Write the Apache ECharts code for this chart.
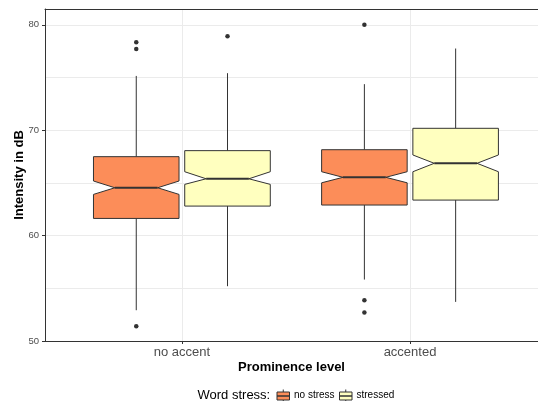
<!DOCTYPE html>
<html>
<head>
<meta charset="utf-8">
<script src="https://cdn.jsdelivr.net/npm/echarts@6/dist/echarts.min.js"></script>
<style>
html,body{margin:0;padding:0;background:#fff;}
#chart{width:538px;height:401px;}
</style>
</head>
<body>
<div id="chart"></div>
<script>
// ---- data ----
const categories = ['no accent', 'accented'];
const stressLevels = ['no stress', 'stressed'];
const legendTitle = 'Word stress:';
const xTitle = 'Prominence level';
const yTitle = 'Intensity in dB';
const yTicks = [50, 60, 70, 80];

const noStressLow = [52.92, 55.83];
const noStressQ1 = [61.63, 62.90];
const noStressNotchLow = [63.91, 65.01];
const noStressMedian = [64.54, 65.53];
const noStressNotchHigh = [65.18, 66.06];
const noStressQ3 = [67.49, 68.15];
const noStressHigh = [75.15, 74.37];
const noStressOutliers = [[0, 78.34], [0, 77.70], [0, 51.40], [1, 80.01], [1, 53.87], [1, 52.70]];

const stressedLow = [55.20, 53.71];
const stressedQ1 = [62.80, 63.37];
const stressedNotchLow = [64.86, 66.06];
const stressedMedian = [65.39, 66.86];
const stressedNotchHigh = [66.06, 67.65];
const stressedQ3 = [68.06, 70.18];
const stressedHigh = [75.41, 77.75];
const stressedOutliers = [[0, 78.91]];

// ---- styling / layout ----
const fills = ['#FC8D59', '#FFFFBF'];
const dodge = [-0.2, 0.2];
const halfWidth = 0.1875;
const FONT = "'Liberation Sans', Arial, Helvetica, sans-serif";

function boxData(low, q1, nlo, med, nhi, q3, high) {
  return categories.map((c, i) => [i, low[i], q1[i], nlo[i], med[i], nhi[i], q3[i], high[i]]);
}
const groups = [
  boxData(noStressLow, noStressQ1, noStressNotchLow, noStressMedian, noStressNotchHigh, noStressQ3, noStressHigh),
  boxData(stressedLow, stressedQ1, stressedNotchLow, stressedMedian, stressedNotchHigh, stressedQ3, stressedHigh)
];
const outlierGroups = [noStressOutliers, stressedOutliers];

function makeRender(g) {
  return function (params, api) {
    const xc = api.value(0) + dodge[g];
    const pL = api.coord([xc - halfWidth, api.value(1)]);
    const pR = api.coord([xc + halfWidth, api.value(1)]);
    const xL = pL[0], xR = pR[0], xM = (xL + xR) / 2;
    const w = xR - xL;
    const y = k => api.coord([xc, api.value(k)])[1];
    const yLow = y(1), yQ1 = y(2), yNL = y(3), yMed = y(4), yNH = y(5), yQ3 = y(6), yHigh = y(7);
    const stroke = '#333333';
    return {
      type: 'group',
      children: [
        { type: 'line', shape: { x1: xM, y1: yQ3, x2: xM, y2: yHigh }, style: { stroke: stroke, lineWidth: 1 } },
        { type: 'line', shape: { x1: xM, y1: yQ1, x2: xM, y2: yLow }, style: { stroke: stroke, lineWidth: 1 } },
        { type: 'polygon', shape: { points: [
            [xL, yQ3], [xR, yQ3], [xR, yNH], [xR - w / 4, yMed], [xR, yNL], [xR, yQ1],
            [xL, yQ1], [xL, yNL], [xL + w / 4, yMed], [xL, yNH]
          ] }, style: { fill: fills[g], stroke: stroke, lineWidth: 1 } },
        { type: 'line', shape: { x1: xL + w / 4, y1: yMed, x2: xR - w / 4, y2: yMed }, style: { stroke: stroke, lineWidth: 2 } }
      ]
    };
  };
}

const series = [];
groups.forEach((data, g) => {
  series.push({
    type: 'custom', name: stressLevels[g], xAxisIndex: 0, yAxisIndex: 0,
    renderItem: makeRender(g), data: data, encode: { x: 0, y: [1, 7] }, z: 3
  });
});
outlierGroups.forEach((pts, g) => {
  series.push({
    type: 'scatter', xAxisIndex: 0, yAxisIndex: 0, z: 4,
    data: pts.map(p => [p[0] + dodge[g], p[1]]),
    symbolSize: 4.5, itemStyle: { color: '#000' }, silent: true
  });
});

// legend drawn as graphic, built from stressLevels
const legendY = 396;
const legendEls = [
  { type: 'text', left: 197.5, top: legendY - 7.5, style: { text: legendTitle, font: '13px ' + FONT, fill: '#000' } }
];
const keyX = [277, 339.5];
const labX = [294, 356.5];
stressLevels.forEach((s, g) => {
  const x0 = keyX[g], wK = 12.5;
  legendEls.push({ type: 'line', shape: { x1: x0 + wK / 2, y1: legendY - 6.5, x2: x0 + wK / 2, y2: legendY + 6.5 }, style: { stroke: '#333', lineWidth: 1 } });
  legendEls.push({ type: 'rect', shape: { x: x0, y: legendY - 4, width: wK, height: 8 }, style: { fill: fills[g], stroke: '#333', lineWidth: 1 } });
  legendEls.push({ type: 'line', shape: { x1: x0, y1: legendY, x2: x0 + wK, y2: legendY }, style: { stroke: '#333', lineWidth: 1.5 } });
  legendEls.push({ type: 'text', left: labX[g], top: legendY - 6, style: { text: s, font: '10px ' + FONT, fill: '#000' } });
});

const XMIN = -0.6, XMAX = 1.561;
const chart = echarts.init(document.getElementById('chart'), null, { renderer: 'canvas' });
chart.setOption({
  animation: false,
  backgroundColor: '#fff',
  grid: { left: 45, right: 0, top: 9, bottom: 60, show: false },
  xAxis: [{
    type: 'value', min: XMIN, max: XMAX,
    axisLine: { show: true, lineStyle: { color: '#333', width: 1 } },
    axisTick: { show: true, length: 3, lineStyle: { color: '#333' }, customValues: [0, 1] },
    axisLabel: { show: true, customValues: [0, 1], margin: 5, fontSize: 13, color: '#4d4d4d', fontFamily: FONT,
      formatter: v => categories[Math.round(v)] || '' },
    splitLine: { show: true, lineStyle: { color: '#ebebeb', width: 1 } },
    name: xTitle, nameLocation: 'middle', nameGap: 19.5, nameMoveOverlap: false,
    nameTextStyle: { fontSize: 13, fontWeight: 'bold', color: '#000', fontFamily: FONT }
  }, {
    type: 'value', min: XMIN, max: XMAX, position: 'top',
    axisLine: { show: true, onZero: false, lineStyle: { color: '#333', width: 1 } },
    axisTick: { show: false }, axisLabel: { show: false }, splitLine: { show: false }
  }],
  yAxis: [{
    type: 'value', min: 50, max: 81.5, interval: 5,
    axisLine: { show: false }, axisTick: { show: false }, axisLabel: { show: false },
    splitLine: { show: true, lineStyle: { color: '#ebebeb', width: 1 } }
  }, {
    type: 'value', min: 50, max: 81.5, interval: 10, position: 'left',
    axisLine: { show: true, onZero: false, lineStyle: { color: '#333', width: 1 } },
    axisTick: { show: true, length: 3, lineStyle: { color: '#333' }, customValues: yTicks },
    axisLabel: { show: true, customValues: yTicks, margin: 6, fontSize: 9.5, color: '#4d4d4d', fontFamily: FONT,
      formatter: v => (yTicks.indexOf(v) >= 0 ? String(v) : '') },
    splitLine: { show: false },
    name: yTitle, nameLocation: 'middle', nameRotate: 90, nameGap: 19.5, nameMoveOverlap: false,
    nameTextStyle: { fontSize: 13, fontWeight: 'bold', color: '#000', fontFamily: FONT }
  }],
  series: series,
  graphic: legendEls
});
</script>
</body>
</html>
